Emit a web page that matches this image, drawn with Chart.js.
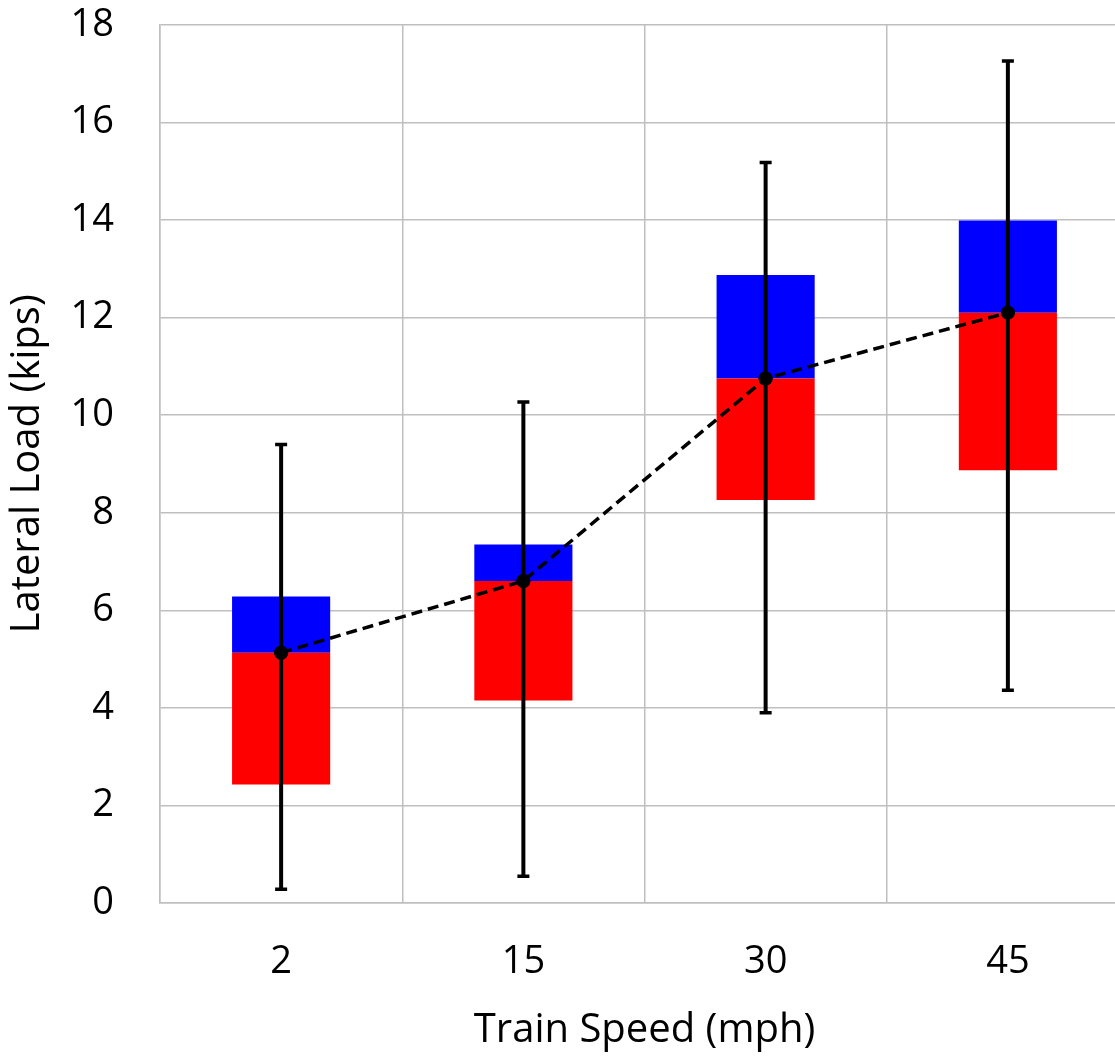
<!DOCTYPE html>
<html>
<head>
<meta charset="utf-8">
<script src="https://cdn.jsdelivr.net/npm/chart.js@4"></script>
<style>
  html, body { margin: 0; padding: 0; overflow: hidden; background: #fff; }
  #wrap { width: 1136px; height: 1103px; margin-top: -44px; }
</style>
</head>
<body>
<div id="wrap"><canvas id="chart" width="1136" height="1103"></canvas></div>
<script>
// data
const speeds = ["2", "15", "30", "45"]
const lowQuart = [2.43, 4.15, 8.26, 8.87]
const medians = [5.13, 6.6, 10.75, 12.1]
const highQuart = [6.28, 7.35, 12.87, 13.99]
const whiskerMin = [0.28, 0.55, 3.9, 4.36]
const whiskerMax = [9.4, 10.27, 15.18, 17.26]

const FONT = "'Open Sans', 'DejaVu Sans', sans-serif"
const GRID = "#bfbfbf"

// red box = lower quartile -> median, blue box = median -> upper quartile
const redBox = speeds.map((s, i) => [lowQuart[i], medians[i]])
const blueBox = speeds.map((s, i) => [medians[i], highQuart[i]])

// whiskers with caps, drawn from the scales
const whiskerPlugin = {
  id: "whiskers",
  afterDatasetsDraw(chart) {
    const { ctx, scales } = chart
    const x = scales.x, y = scales.y
    ctx.save()
    ctx.strokeStyle = "#000"
    speeds.forEach((s, i) => {
      const px = x.getPixelForValue(i)
      const top = y.getPixelForValue(whiskerMax[i])
      const bot = y.getPixelForValue(whiskerMin[i])
      ctx.lineWidth = 4
      ctx.beginPath()
      ctx.moveTo(px, top)
      ctx.lineTo(px, bot)
      ctx.stroke()
      ctx.lineWidth = 3.5
      ctx.beginPath()
      ctx.moveTo(px - 6, top)
      ctx.lineTo(px + 6, top)
      ctx.moveTo(px - 6, bot)
      ctx.lineTo(px + 6, bot)
      ctx.stroke()
    })
    // redraw the median dots on top of the whiskers
    const meta = chart.getDatasetMeta(0)
    ctx.fillStyle = "#000"
    meta.data.forEach((pt) => {
      ctx.beginPath()
      ctx.arc(pt.x, pt.y, 7, 0, Math.PI * 2)
      ctx.fill()
    })
    ctx.restore()
  },
}

new Chart(document.getElementById("chart"), {
  type: "bar",
  data: {
    labels: speeds,
    datasets: [
      {
        type: "line",
        data: medians,
        borderColor: "#000",
        borderWidth: 3.5,
        borderDash: [11, 6],
        pointRadius: 7,
        pointBackgroundColor: "#000",
        pointBorderWidth: 0,
        order: 0,
      },
      {
        data: redBox,
        backgroundColor: "#ff0000",
        grouped: false,
        barPercentage: 0.405,
        categoryPercentage: 1,
        order: 2,
      },
      {
        data: blueBox,
        backgroundColor: "#0000ff",
        grouped: false,
        barPercentage: 0.405,
        categoryPercentage: 1,
        order: 2,
      },
    ],
  },
  options: {
    responsive: false,
    animation: false,
    layout: { padding: { top: 26, right: 2, left: 0, bottom: 0 } },
    plugins: { legend: { display: false }, tooltip: { enabled: false } },
    scales: {
      x: {
        afterFit: (s) => { s.height = 156 },
        grid: { color: GRID, lineWidth: 1.5, offset: true, drawTicks: false },
        border: { color: GRID, width: 1.5 },
        ticks: { color: "#000", font: { family: FONT, size: 38 }, padding: 36 },
        title: {
          display: true,
          text: "Train Speed (mph)",
          color: "#000",
          font: { family: FONT, size: 40 },
          padding: { top: 4 },
        },
      },
      y: {
        min: 0,
        max: 18,
        afterFit: (s) => { s.width = 160 },
        grid: { color: GRID, lineWidth: 1.5, drawTicks: false },
        border: { color: GRID, width: 1.5 },
        ticks: { stepSize: 2, color: "#000", font: { family: FONT, size: 38 }, padding: 46 },
        title: {
          display: true,
          text: "Lateral Load (kips)",
          color: "#000",
          font: { family: FONT, size: 40 },
          padding: { bottom: 0 },
        },
      },
    },
  },
  plugins: [whiskerPlugin],
})
</script>
</body>
</html>
